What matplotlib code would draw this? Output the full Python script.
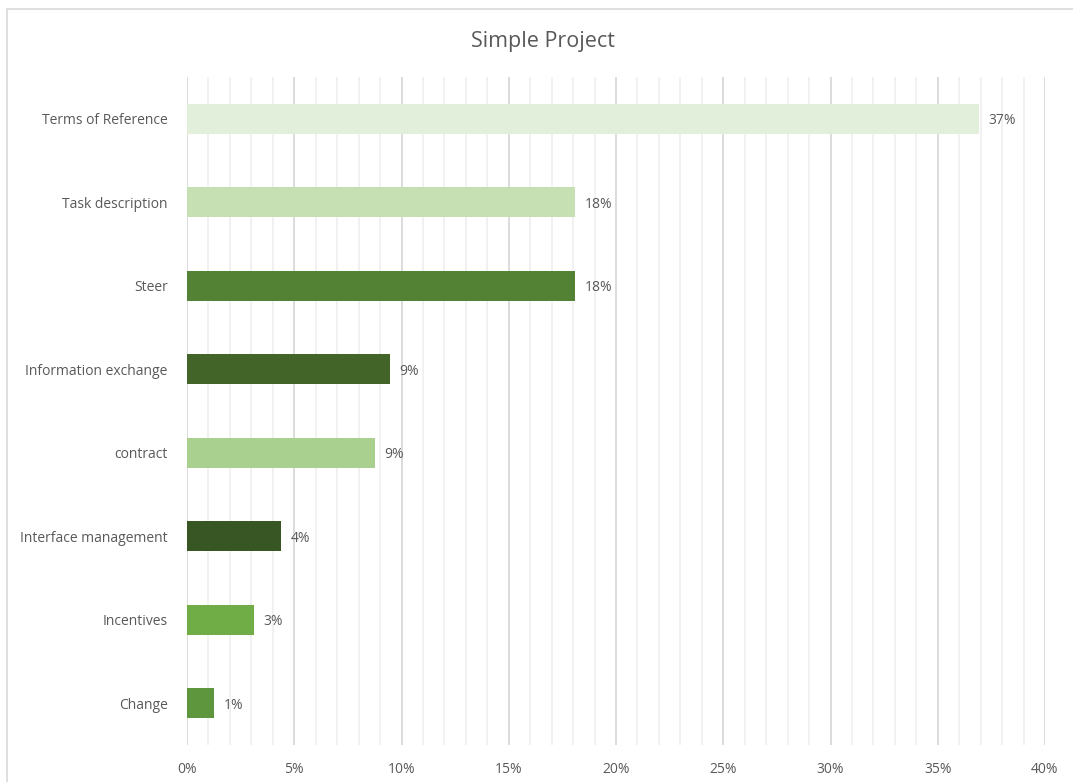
import matplotlib.pyplot as plt
from matplotlib.patches import Rectangle
from matplotlib.ticker import MultipleLocator, FuncFormatter

# Share of each item in the simple project (in %)
categories = ["Terms of Reference", "Task description", "Steer",
              "Information exchange", "contract", "Interface management",
              "Incentives", "Change"]
shares = [36.9, 18.1, 18.1, 9.45, 8.75, 4.4, 3.1, 1.25]
bar_colors = ["#E2EFDA", "#C6E0B4", "#548235", "#426428",
              "#A9D08E", "#375623", "#70AD47", "#5E963D"]

text_color = "#595959"
plt.rcParams["font.family"] = ["Open Sans", "DejaVu Sans"]

fig = plt.figure(figsize=(10.73, 7.82), dpi=100)
ax = fig.add_axes([0.1743, 0.0473, 0.7996, 0.8542])

# chart border (runs off the right and bottom edges)
fig.patches.append(Rectangle((7 / 1073, -0.1), 1.2, 1 - 9 / 782 + 0.1,
                             transform=fig.transFigure, fill=False,
                             edgecolor="#D9D9D9", linewidth=1.2))

y_pos = list(range(len(categories)))[::-1]
ax.barh(y_pos, shares, height=0.36, color=bar_colors, zorder=3)

for y, v in zip(y_pos, shares):
    ax.text(v + 0.45, y - 0.025, f"{v:.0f}%", va="center", ha="left",
            fontsize=10, color=text_color)

ax.set_xlim(0, 40)
ax.set_ylim(-0.5, len(categories) - 0.5)
ax.xaxis.set_major_locator(MultipleLocator(5))
ax.xaxis.set_minor_locator(MultipleLocator(1))
ax.xaxis.set_major_formatter(FuncFormatter(lambda x, _: f"{x:.0f}%"))
ax.grid(which="major", axis="x", color="#D9D9D9", linewidth=1.3, zorder=0)
ax.grid(which="minor", axis="x", color="#F0F0F0", linewidth=1.3, zorder=0)

ax.set_yticks(y_pos)
ax.set_yticklabels(categories)
ax.tick_params(axis="both", which="both", length=0, colors=text_color,
               labelsize=10)
ax.tick_params(axis="y", pad=14)
ax.tick_params(axis="x", pad=12)
for s in ax.spines.values():
    s.set_visible(False)

fig.text(0.506, 0.947, "Simple Project", ha="center", va="center",
         fontsize=15.5, color=text_color)

fig.savefig("out.png", dpi=100)
